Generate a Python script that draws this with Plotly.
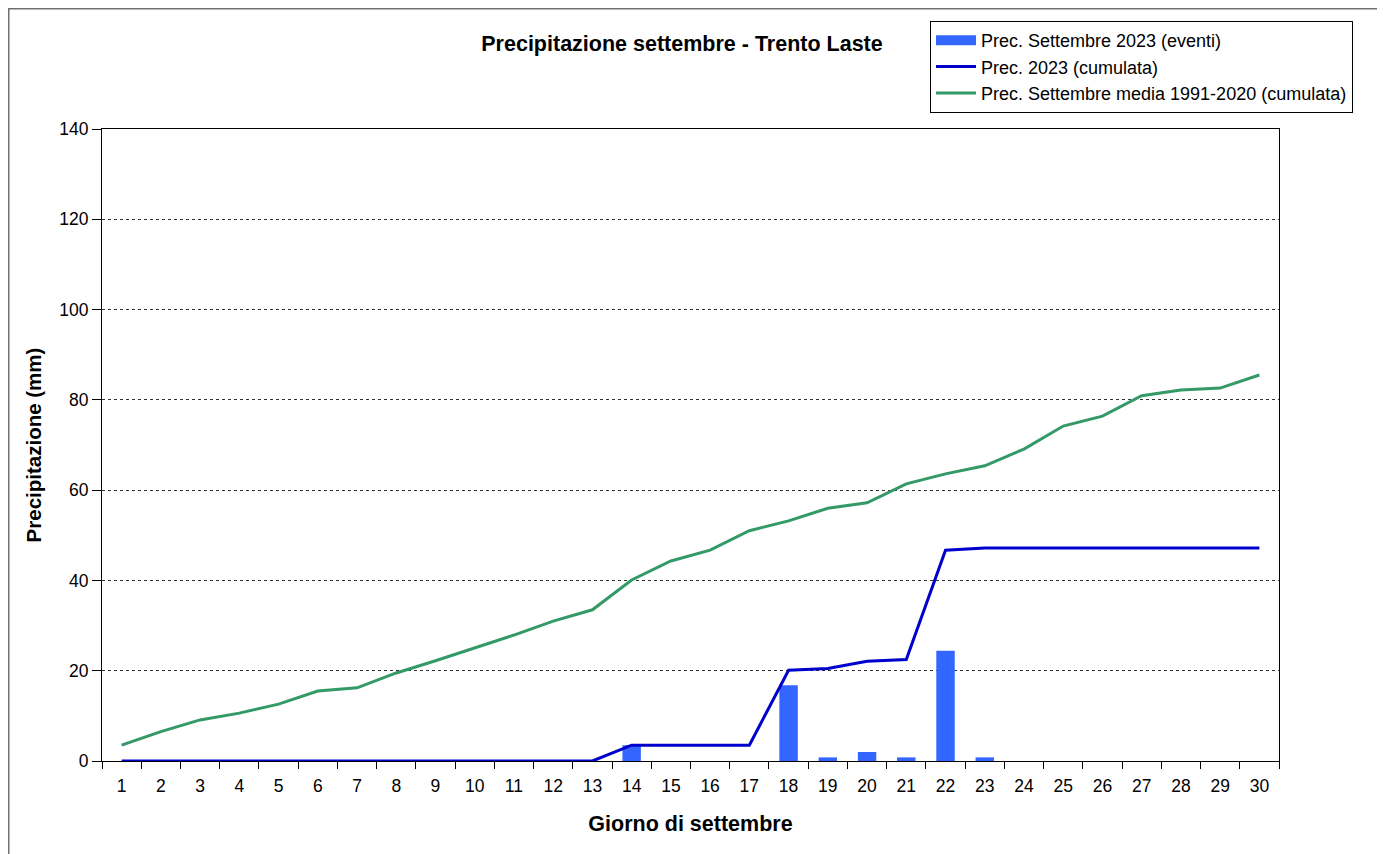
import plotly.graph_objects as go

days = [str(d) for d in range(1, 31)]

# daily precipitation events September 2023 (mm)
eventi = [0, 0, 0, 0, 0, 0, 0, 0, 0, 0, 0, 0, 0, 3.5, 0, 0, 0, 16.8, 0.8, 2.0,
          0.8, 24.4, 0.8, 0, 0, 0, 0, 0, 0, 0]

# cumulated 2023
cumulata_2023 = [0, 0, 0, 0, 0, 0, 0, 0, 0, 0, 0, 0, 0, 3.5, 3.5, 3.5, 3.5, 20.1,
                 20.5, 22.1, 22.5, 46.7, 47.2, 47.2, 47.2, 47.2, 47.2, 47.2, 47.2, 47.2]

# cumulated mean 1991-2020
media_1991_2020 = [3.5, 6.5, 9.1, 10.6, 12.6, 15.5, 16.2, 19.5, 22.2, 25.0, 27.9,
                   31.0, 33.5, 40.1, 44.3, 46.7, 51.0, 53.2, 56.0, 57.2, 61.4, 63.6,
                   65.4, 69.1, 74.2, 76.4, 80.9, 82.2, 82.6, 85.5]

y_ticks = [0, 20, 40, 60, 80, 100, 120, 140]

O = 8  # page offset of the figure (body margin)
W, H = 1385 - O, 854 - O
L, R, T, B = 102 - O, 1279 - O, 129 - O, 761 - O
pw, ph = R - L, B - T


def px(x):
    return (x - O - L) / pw


def py(y):
    return (B - (y - O)) / ph


font = "Liberation Sans, Arial, sans-serif"
BAR_COLOR = "#3366FF"

fig = go.Figure()
fig.add_trace(go.Bar(x=days, y=eventi, name="Prec. Settembre 2023 (eventi)",
                     marker=dict(color=BAR_COLOR, line=dict(width=0)), width=0.47,
                     showlegend=False))
# legend entry drawn as a wide block, like the original
fig.add_trace(go.Scatter(x=[None], y=[None], name="Prec. Settembre 2023 (eventi)",
                         mode="lines", line=dict(color=BAR_COLOR, width=14)))
fig.add_trace(go.Scatter(x=days, y=cumulata_2023, name="Prec. 2023 (cumulata)",
                         mode="lines", line=dict(color="#0000CC", width=3)))
fig.add_trace(go.Scatter(x=days, y=media_1991_2020,
                         name="Prec. Settembre media 1991-2020 (cumulata)",
                         mode="lines", line=dict(color="#339966", width=3)))

fig.update_layout(
    width=W, height=H,
    margin=dict(l=L, r=W - R, t=T, b=H - B, autoexpand=False),
    paper_bgcolor="white", plot_bgcolor="white",
    font=dict(family=font, color="black", size=17),
    title=dict(text="<b>Precipitazione settembre - Trento Laste</b>",
               x=px(682), xref="paper", xanchor="center",
               y=1 - (43 - O) / H, yref="container", yanchor="middle",
               font=dict(size=21.5, family=font, color="black")),
    legend=dict(x=px(930), y=py(21), xanchor="left", yanchor="top",
                bordercolor="black", borderwidth=1, bgcolor="white",
                font=dict(size=18, family=font), tracegroupgap=0,
                itemwidth=40),
    showlegend=True,
    xaxis=dict(type="category", tickson="boundaries", ticks="outside", ticklen=7,
               tickcolor="black", showline=True, linecolor="black", linewidth=1,
               mirror=True, showgrid=False, tickfont=dict(size=17.5),
               ticklabelstandoff=9,
               title=dict(text="<b>Giorno di settembre</b>", font=dict(size=21.5),
                          standoff=20)),
    yaxis=dict(range=[0, 140], tickvals=y_ticks, ticks="outside", ticklen=9,
               tickcolor="black", showline=True, linecolor="black", linewidth=1,
               mirror=True, showgrid=True, gridcolor="#333333", griddash="dot",
               gridwidth=1, zeroline=False, tickfont=dict(size=17.5),
               title=dict(text="<b>Precipitazione (mm)</b>", font=dict(size=20.5),
                          standoff=12)),
    shapes=[dict(type="rect", xref="paper", yref="paper",
                 x0=px(8), x1=px(1379), y0=py(870), y1=py(8),
                 line=dict(color="#707070", width=3), fillcolor="rgba(0,0,0,0)",
                 layer="below")],
)

fig.write_html("out.html")
